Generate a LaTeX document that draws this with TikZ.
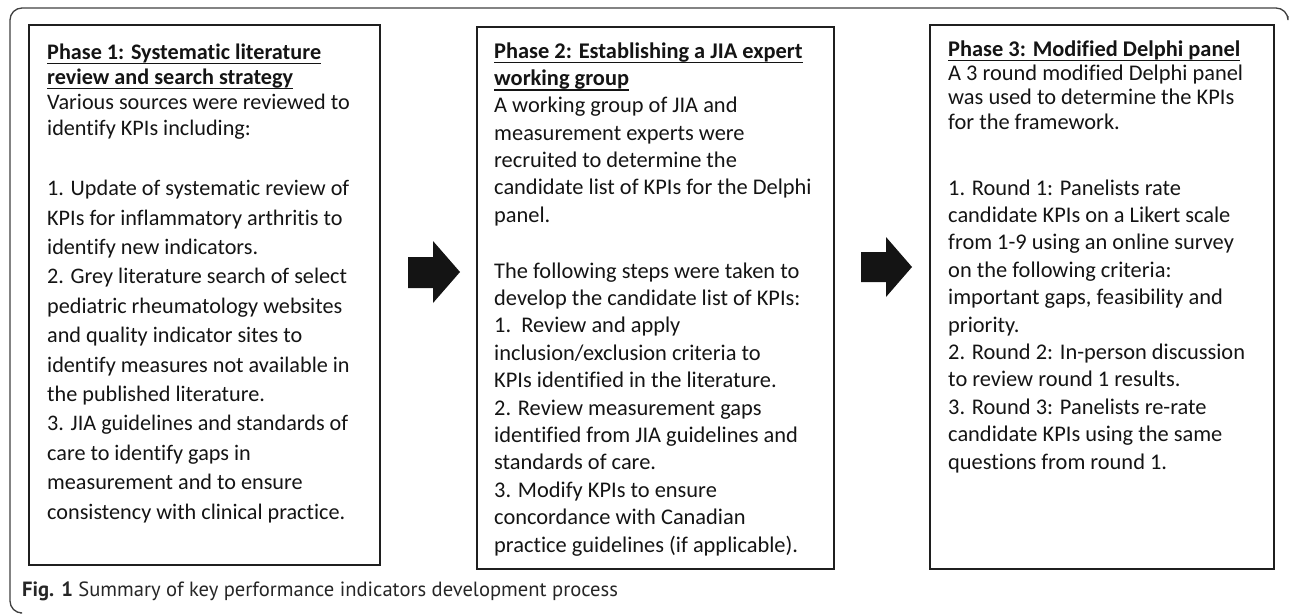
\documentclass[tikz,border=0pt]{standalone}
\usepackage{fontspec}
\setmainfont{Carlito}[Ligatures=NoCommon]
\newfontfamily\capfont{PT Sans}
\newsavebox\ulbox
\newcommand\hul[1]{\sbox\ulbox{\bfseries #1}\rlap{\usebox\ulbox}\rule[-5pt]{\wd\ulbox}{1.6pt}}
\tikzset{
  box/.style={draw=black!88, line width=1.8pt, inner sep=0pt},
  txt/.style={anchor=base west, align=left, inner sep=0pt, text=black!92},
  blockarrow/.style={fill=black!92, draw=none},
  frame/.style={draw=black!75, line width=1.3pt, rounded corners=12pt}
}
\begin{document}
\begin{tikzpicture}[x=1pt,y=-1pt]
\useasboundingbox (0,0) rectangle (1290,613);
% outer frame
\draw[frame] (20,613) -- (10,613) -- (10,8) -- (1288,8) -- (1288,16);
% boxes
\draw[box] (29,25) rectangle (380,565);
\draw[box] (477,27) rectangle (834,569);
\draw[box] (930,25) rectangle (1274,569);
% box 1 text (anchored at baseline of last line)
\node[txt, font=\fontsize{22.2}{25.3}\selectfont] (t1a) at (47,135)
 {\hul{Phase 1: Systematic literature}\\
  \hul{review and search strategy}\\
  Various sources were reviewed to\\
  identify KPIs including:};
\node[txt, font=\fontsize{22.2}{29.4}\selectfont] (t1b) at (47,519)
 {1. Update of systematic review of\\
  KPIs for inflammatory arthritis to\\
  identify new indicators.\\
  2. Grey literature search of select\\
  pediatric rheumatology websites\\
  and quality indicator sites to\\
  identify measures not available in\\
  the published literature.\\
  3. JIA guidelines and standards of\\
  care to identify gaps in\\
  measurement and to ensure\\
  consistency with clinical practice.};
% box 2 text
\node[txt, font=\fontsize{22.4}{27.3}\selectfont] (t2a) at (494,222)
 {\hul{Phase 2: Establishing a JIA expert}\\
  \hul{working group}\\
  A working group of JIA and\\
  measurement experts were\\
  recruited to determine the\\
  candidate list of KPIs for the Delphi\\
  panel.};
\node[txt, font=\fontsize{22.4}{27.4}\selectfont] (t2b) at (494,552)
 {The following steps were taken to\\
  develop the candidate list of KPIs:\\
  1.\ \ Review and apply\\
  inclusion/exclusion criteria to\\
  KPIs identified in the literature.\\
  2. Review measurement gaps\\
  identified from JIA guidelines and\\
  standards of care.\\
  3. Modify KPIs to ensure\\
  concordance with Canadian\\
  practice guidelines (if applicable).};
% box 3 text
\node[txt, font=\fontsize{22.4}{24.3}\selectfont] (t3a) at (948,129)
 {\hul{Phase 3: Modified Delphi panel}\\
  A 3 round modified Delphi panel\\
  was used to determine the KPIs\\
  for the framework.};
\node[txt, font=\fontsize{22.4}{27.4}\selectfont] (t3b) at (948,469)
 {1. Round 1: Panelists rate\\
  candidate KPIs on a Likert scale\\
  from 1-9 using an online survey\\
  on the following criteria:\\
  important gaps, feasibility and\\
  priority.\\
  2. Round 2: In-person discussion\\
  to review round 1 results.\\
  3. Round 3: Panelists re-rate\\
  candidate KPIs using the same\\
  questions from round 1.};
% block arrows
\fill[blockarrow] (408,257) -- (433,257) -- (433,241) -- (460,272) -- (433,303) -- (433,288) -- (408,288) -- cycle;
\fill[blockarrow] (861,252) -- (886,252) -- (886,237) -- (912,267) -- (886,297) -- (886,282) -- (861,282) -- cycle;
% caption
\node[anchor=base west, inner sep=0pt, font=\capfont\fontsize{20.6}{24}\selectfont, text=black!85] (cap) at (22,596)
 {\textbf{Fig. 1} Summary of key performance indicators development process};
\end{tikzpicture}
\end{document}
